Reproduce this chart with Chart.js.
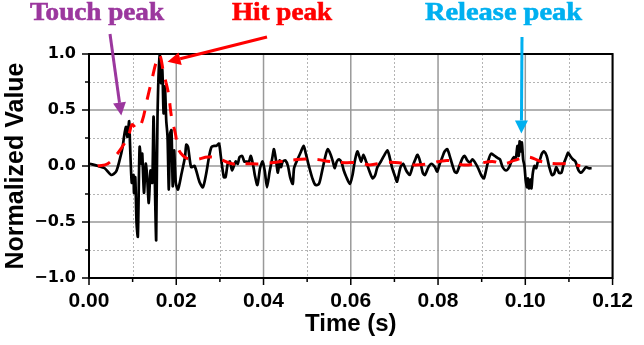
<!DOCTYPE html>
<html><head><meta charset="utf-8">
<script src="https://cdn.jsdelivr.net/npm/chart.js@4/dist/chart.umd.min.js"></script>
<style>html,body{margin:0;padding:0;background:#fff}#w{width:644px;height:345px;position:relative}</style>
</head><body><div id="w"><canvas id="c" width="644" height="345"></canvas></div>
<script>
// ---- data ----
const signalTime = [0.0002,0.0021,0.0036,0.0051,0.0062,0.0070,0.0077,0.0081,0.0085,0.0088,
0.0092,0.0094,0.0098,0.0102,0.0103,0.0106,0.0109,0.0112,0.0116,0.0120,
0.0122,0.0126,0.0130,0.0133,0.0137,0.0141,0.0145,0.0148,0.0152,0.0154,
0.0157,0.0162,0.0165,0.0168,0.0171,0.0174,0.0177,0.0180,0.0183,0.0186,
0.0189,0.0192,0.0195,0.0199,0.0204,0.0212,0.0220,0.0223,0.0227,0.0234,
0.0242,0.0253,0.0261,0.0268,0.0276,0.0281,0.0287,0.0292,0.0298,0.0302,
0.0309,0.0313,0.0318,0.0323,0.0328,0.0336,0.0341,0.0345,0.0351,0.0356,
0.0362,0.0366,0.0371,0.0377,0.0380,0.0386,0.0392,0.0398,0.0403,0.0408,
0.0414,0.0420,0.0424,0.0429,0.0433,0.0437,0.0440,0.0444,0.0450,0.0456,
0.0461,0.0467,0.0470,0.0478,0.0485,0.0492,0.0497,0.0504,0.0512,0.0519,
0.0527,0.0534,0.0542,0.0547,0.0553,0.0559,0.0563,0.0568,0.0573,0.0579,
0.0584,0.0590,0.0598,0.0604,0.0609,0.0615,0.0620,0.0624,0.0629,0.0635,
0.0643,0.0650,0.0656,0.0661,0.0669,0.0676,0.0684,0.0689,0.0695,0.0703,
0.0706,0.0714,0.0720,0.0727,0.0735,0.0742,0.0748,0.0753,0.0759,0.0765,
0.0770,0.0778,0.0785,0.0793,0.0798,0.0804,0.0810,0.0815,0.0821,0.0826,
0.0832,0.0838,0.0843,0.0849,0.0856,0.0861,0.0867,0.0873,0.0879,0.0885,
0.0892,0.0900,0.0905,0.0910,0.0916,0.0922,0.0930,0.0937,0.0942,0.0948,
0.0956,0.0963,0.0969,0.0974,0.0978,0.0982,0.0985,0.0987,0.0989,0.0992,
0.0995,0.0998,0.1001,0.1004,0.1006,0.1008,0.1011,0.1014,0.1017,0.1021,
0.1025,0.1029,0.1032,0.1038,0.1043,0.1049,0.1055,0.1061,0.1066,0.1071,
0.1077,0.1083,0.1088,0.1094,0.1098,0.1103,0.1109,0.1115,0.1122,0.1128,
0.1133,0.1139,0.1145,0.1152];
const signalValue = [0.02,0.00,-0.02,-0.08,-0.05,0.05,0.17,0.28,0.35,0.26,
0.40,0.20,-0.15,-0.08,-0.24,-0.10,-0.51,-0.63,0.17,0.02,
0.11,-0.24,0.02,-0.08,-0.33,-0.04,-0.15,0.44,-0.36,-0.66,
0.44,0.99,0.74,0.86,0.47,0.71,0.41,0.26,-0.21,0.29,
0.32,-0.18,0.14,-0.15,-0.21,-0.07,0.08,0.19,0.17,-0.01,
0.00,-0.14,-0.19,-0.08,0.10,0.17,0.18,0.18,0.20,0.09,
-0.10,-0.10,0.02,0.04,-0.04,0.04,0.02,0.08,0.09,0.04,
0.04,0.03,0.09,-0.01,-0.08,-0.17,-0.02,0.04,-0.05,-0.19,
-0.05,0.07,0.15,0.04,-0.06,0.05,-0.01,0.04,0.05,0.00,
-0.10,-0.16,-0.02,0.06,0.12,0.18,0.11,0.00,-0.11,-0.17,
-0.16,-0.05,0.09,0.15,0.11,0.04,-0.02,0.04,0.06,0.03,
-0.04,-0.10,-0.16,-0.08,0.04,0.13,0.08,0.04,0.10,0.04,
-0.05,-0.11,-0.08,-0.01,0.04,0.09,0.14,0.08,-0.02,-0.11,
-0.14,-0.01,0.02,-0.04,-0.08,0.00,0.06,0.10,0.04,-0.06,
-0.08,-0.01,0.02,-0.01,-0.05,0.02,0.08,0.13,0.15,0.10,
0.02,-0.05,-0.06,0.00,0.07,0.09,0.05,0.03,0.06,0.03,
-0.02,-0.09,-0.11,-0.04,0.06,0.11,0.09,0.07,0.06,-0.01,
-0.04,-0.01,0.05,0.08,0.06,0.18,0.09,0.22,0.13,0.21,
0.06,0.00,-0.13,-0.19,-0.11,-0.20,-0.12,-0.20,-0.07,0.00,
-0.02,0.04,0.04,0.11,0.13,0.09,-0.01,-0.08,-0.07,-0.01,
-0.06,-0.06,0.02,0.08,0.12,0.09,0.06,0.04,-0.04,-0.06,
-0.04,-0.01,-0.02,-0.02];
const envelopeTime = [0.0020,0.0043,0.0065,0.0081,0.0092,0.0099,0.0110,0.0121,0.0133,0.0144,
0.0155,0.0162,0.0171,0.0182,0.0189,0.0198,0.0204,0.0216,0.0231,0.0249,
0.0272,0.0294,0.0328,0.0362,0.0396,0.0440,0.0485,0.0519,0.0553,0.0587,
0.0620,0.0643,0.0676,0.0710,0.0744,0.0778,0.0822,0.0856,0.0890,0.0924,
0.0951,0.0975,0.1007,0.1036,0.1070,0.1103,0.1126];
const envelopeValue = [0.00,0.02,0.11,0.20,0.29,0.37,0.33,0.39,0.59,0.77,
0.94,0.99,0.83,0.65,0.44,0.29,0.16,0.09,0.06,0.06,
0.08,0.07,0.02,0.02,0.02,0.04,0.06,0.06,0.04,0.03,
0.03,0.01,0.03,0.03,0.01,0.02,0.05,0.01,0.02,0.04,
0.02,0.05,0.08,0.04,0.02,0.02,0.00];
const xTicks = [0.00,0.02,0.04,0.06,0.08,0.10,0.12];
const xMinorTicks = [0.01,0.03,0.05,0.07,0.09,0.11];
const yTicks = [-1.0,-0.5,0.0,0.5,1.0];
const yMinorTicks = [-0.75,-0.25,0.25,0.75];
const annotations = [
  {text:'Touch peak', color:'#9B379E', at:[0.0074,0.45]},
  {text:'Hit peak', color:'#FF0000', at:[0.0180,0.93]},
  {text:'Release peak', color:'#00B0F0', at:[0.0991,0.29]}
];

// ---- styling / layout ----
const W=644,H=345, L=89, R=623, T=54, B=278;
const annoLayout = [
  {x0:30, x1:164, base:20, from:[110,34]},
  {x0:232, x1:332, base:20, from:[267,37]},
  {x0:425, x1:582, base:20, from:[522,37]}
];

const gridPlugin = {
  id:'gridPlugin',
  beforeDatasetsDraw(chart){
    const {ctx, chartArea:a, scales:{x,y}} = chart;
    ctx.save();
    ctx.lineWidth=1; ctx.strokeStyle='#b4b4b4'; ctx.setLineDash([2,2]);
    xMinorTicks.forEach(v=>{const p=Math.round(x.getPixelForValue(v))+0.5;ctx.beginPath();ctx.moveTo(p,a.top);ctx.lineTo(p,a.bottom);ctx.stroke();});
    yMinorTicks.forEach(v=>{const p=Math.round(y.getPixelForValue(v))+0.5;ctx.beginPath();ctx.moveTo(a.left,p);ctx.lineTo(a.right,p);ctx.stroke();});
    ctx.setLineDash([]); ctx.strokeStyle='#999'; ctx.lineWidth=1.5;
    xTicks.forEach(v=>{const p=x.getPixelForValue(v);ctx.beginPath();ctx.moveTo(p,a.top);ctx.lineTo(p,a.bottom);ctx.stroke();});
    yTicks.forEach(v=>{const p=y.getPixelForValue(v);ctx.beginPath();ctx.moveTo(a.left,p);ctx.lineTo(a.right,p);ctx.stroke();});
    ctx.restore();
  },
  afterDatasetsDraw(chart){
    const {ctx, chartArea:a, scales:{x,y}} = chart;
    ctx.save();
    ctx.strokeStyle='#000'; ctx.lineWidth=2;
    ctx.strokeRect(a.left,a.top,a.right-a.left,a.bottom-a.top);
    ctx.lineWidth=1.5;
    const tk=(v,len,hor)=>{ctx.beginPath();
      if(hor){const p=x.getPixelForValue(v);ctx.moveTo(p,a.bottom);ctx.lineTo(p,a.bottom+len);}
      else{const p=y.getPixelForValue(v);ctx.moveTo(a.left,p);ctx.lineTo(a.left-len,p);}
      ctx.stroke();};
    xTicks.forEach(v=>tk(v,7,true)); xMinorTicks.forEach(v=>tk(v,4,true));
    yTicks.forEach(v=>tk(v,7,false)); yMinorTicks.forEach(v=>tk(v,4,false));
    ctx.restore();
  },
  afterDraw(chart){
    const {ctx, scales:{x,y}} = chart;
    ctx.save();
    annotations.forEach((an,i)=>{
      const lay=annoLayout[i];
      ctx.font='bold 25px "Liberation Serif", "DejaVu Serif", serif';
      const w=ctx.measureText(an.text).width;
      const sx=(lay.x1-lay.x0)/w;
      ctx.save(); ctx.translate(lay.x0, lay.base); ctx.scale(sx,1);
      ctx.fillStyle=an.color; ctx.strokeStyle=an.color; ctx.lineWidth=0.6;
      ctx.textBaseline='alphabetic'; ctx.textAlign='left';
      ctx.fillText(an.text,0,0); ctx.strokeText(an.text,0,0); ctx.restore();
      // arrow
      const tx=x.getPixelForValue(an.at[0]), ty=y.getPixelForValue(an.at[1]);
      const [fx,fy]=lay.from;
      const ang=Math.atan2(ty-fy,tx-fx), hl=13, hw=6.5;
      const bx=tx-hl*Math.cos(ang), by=ty-hl*Math.sin(ang);
      ctx.strokeStyle=an.color; ctx.fillStyle=an.color; ctx.lineWidth=3;
      ctx.beginPath(); ctx.moveTo(fx,fy); ctx.lineTo(bx,by); ctx.stroke();
      ctx.beginPath(); ctx.moveTo(tx,ty);
      ctx.lineTo(bx+hw*Math.sin(ang), by-hw*Math.cos(ang));
      ctx.lineTo(bx-hw*Math.sin(ang), by+hw*Math.cos(ang));
      ctx.closePath(); ctx.fill();
    });
    ctx.restore();
  }
};

new Chart(document.getElementById('c'),{
  type:'line',
  data:{datasets:[
    {label:'envelope', data:envelopeTime.map((t,i)=>({x:t,y:envelopeValue[i]})),
     borderColor:'#FF0000', borderWidth:3, borderDash:[13,11], pointRadius:0, tension:0.4, fill:false},
    {label:'signal', data:signalTime.map((t,i)=>({x:t,y:signalValue[i]})),
     borderColor:'#000', borderWidth:2.7, pointRadius:0, tension:0.25, fill:false, borderJoinStyle:'round'}
  ]},
  options:{
    responsive:false, animation:false, events:[],
    layout:{padding:{left:0,right:W-R,top:T,bottom:0}},
    plugins:{legend:{display:false},tooltip:{enabled:false}},
    scales:{
      x:{type:'linear', min:0, max:0.12,
        afterBuildTicks:s=>{s.ticks=xTicks.map(v=>({value:v}));},
        afterFit:s=>{s.height=H-B;},
        grid:{display:false,drawTicks:false}, border:{display:false},
        ticks:{font:{family:'"Liberation Sans", Arial, sans-serif', size:21, weight:'bold'},color:'#000',padding:11,maxRotation:0,autoSkip:false,
          callback:v=>Number(v).toFixed(2)},
        title:{display:true,text:'Time (s)',color:'#000',
          font:{family:'"Liberation Sans", Arial, sans-serif',size:24,weight:'bold'},padding:{top:0,bottom:6}}
      },
      y:{type:'linear', min:-1, max:1,
        afterBuildTicks:s=>{s.ticks=yTicks.map(v=>({value:v}));},
        afterFit:s=>{s.width=L;},
        grid:{display:false,drawTicks:false}, border:{display:false},
        ticks:{font:{family:'"DejaVu Sans", sans-serif', size:16, weight:'bold'},color:'#000',padding:13,autoSkip:false,
          callback:v=>(v<0?'\u2212':'')+Math.abs(Number(v)).toFixed(1)},
        title:{display:true,text:'Normalized Value',color:'#000',
          font:{family:'"Liberation Sans", Arial, sans-serif',size:25,weight:'bold'},padding:{top:1,bottom:0}}
      }
    }
  },
  plugins:[gridPlugin]
});
</script></body></html>
